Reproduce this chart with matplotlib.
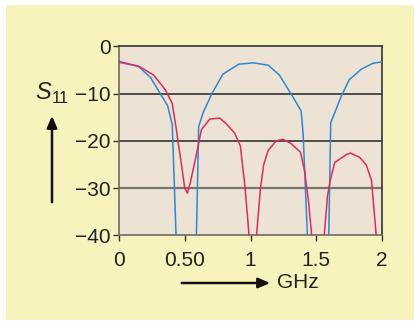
import matplotlib
matplotlib.use("Agg")
import matplotlib.pyplot as plt
from matplotlib.patches import Rectangle, FancyArrowPatch
import numpy as np

plt.rcParams['font.family'] = ['Liberation Sans', 'DejaVu Sans']

# Blue curve (GHz, dB)
blue_x = [0.0, 0.145, 0.24, 0.37, 0.405, 0.44, 0.585, 0.606, 0.64, 0.707, 0.79, 0.91,
          1.02, 1.135, 1.22, 1.32, 1.385, 1.40, 1.44, 1.592, 1.61, 1.69, 1.75, 1.84, 1.93, 2.0]
blue_y = [-3.4, -4.2, -6.6, -12.6, -16.6, -45, -45, -17.0, -14.0, -10.0, -5.9, -3.8,
          -3.5, -4.0, -6.1, -10.6, -13.7, -18.4, -45, -45, -16.2, -10.6, -7.1, -4.9, -3.6, -3.3]

# Red curve (GHz, dB)
red_x = [0.0, 0.157, 0.264, 0.352, 0.405, 0.436, 0.449, 0.474, 0.5, 0.52, 0.542, 0.588,
         0.626, 0.69, 0.766, 0.816, 0.88, 0.923, 0.958, 0.995, 1.04, 1.075, 1.10, 1.133,
         1.196, 1.247, 1.305, 1.38, 1.41, 1.44, 1.472, 1.555, 1.585, 1.607, 1.64, 1.73,
         1.76, 1.83, 1.88, 1.92, 1.962]
red_y = [-3.2, -4.3, -6.1, -9.2, -12.1, -17.6, -20.2, -24.8, -30.0, -31.1, -28.9, -23.0,
         -17.7, -15.4, -15.2, -16.4, -18.4, -21.1, -29.7, -42, -42, -30.3, -25.1, -22.1,
         -20.0, -19.7, -20.5, -22.4, -26.2, -32.5, -42, -42, -31.8, -28.3, -24.6, -22.9,
         -22.6, -23.5, -25.1, -28.3, -42]

x_ticks = [0, 0.5, 1, 1.5, 2]
x_tick_labels = ["0", "0.50", "1", "1.5", "2"]
y_ticks = [0, -10, -20, -30, -40]
y_tick_labels = ["0", "\u221210", "\u221220", "\u221230", "\u221240"]

W, H = 418, 321
fig = plt.figure(figsize=(W / 100, H / 100), dpi=100, facecolor='white')
fig.patches.append(Rectangle((6 / W, 1 / H), (414 - 6) / W, 315 / H,
                             transform=fig.transFigure, facecolor='#f7f3bd',
                             edgecolor='none', zorder=-10))

ax = fig.add_axes([119 / W, 85.7 / H, 263 / W, 189 / H])
ax.set_zorder(1)
ax.set_facecolor('#ece3d4')
ax.plot(blue_x, blue_y, color='#2a8ad6', lw=1.1, zorder=3)
ax.plot(red_x, red_y, color='#e2295c', lw=1.1, zorder=3)

for yv, c, lw in [(-10, '#333333', 1.2), (-20, '#333333', 1.2), (-30, '#7a7670', 1.6)]:
    ax.axhline(yv, color=c, lw=lw, zorder=2)

ax.set_xlim(0, 2)
ax.set_ylim(-40, 0)
ax.set_xticks(x_ticks)
ax.set_xticklabels(x_tick_labels)
ax.set_yticks(y_ticks)
ax.set_yticklabels(y_tick_labels)
ax.tick_params(axis='both', direction='out', length=4, width=1, labelsize=15,
               color='#333333', labelcolor='#222222')
ax.tick_params(axis='x', pad=7)
ax.tick_params(axis='y', pad=2)
for s in ['top', 'right']:
    ax.spines[s].set_color('#333333')
    ax.spines[s].set_linewidth(1.2)
for s in ['left', 'bottom']:
    ax.spines[s].set_color('#6e6a64')
    ax.spines[s].set_linewidth(1.2)

# y label and arrow
fig.text(35 / W, 1 - 93 / H, "S", fontsize=17, ha='left', va='center', color='#222222',
         fontstyle='italic')
fig.text(52 / W, 1 - 99 / H, "11", fontsize=12, ha='left', va='center', color='#222222')
fig.patches.append(FancyArrowPatch((52 / W, 1 - 205 / H), (52 / W, 1 - 113 / H),
                                   transform=fig.transFigure,
                                   arrowstyle='-|>,head_length=7,head_width=3',
                                   color='#111111', lw=1.8, mutation_scale=1))

# x label and arrow
fig.patches.append(FancyArrowPatch((179 / W, 1 - 283 / H), (273 / W, 1 - 283 / H),
                                   transform=fig.transFigure,
                                   arrowstyle='-|>,head_length=7,head_width=3',
                                   color='#111111', lw=1.8, mutation_scale=1))
fig.text(277 / W, 1 - 283 / H, "GHz", fontsize=15, ha='left', va='center', color='#222222')

fig.savefig("out.png", dpi=100, facecolor='white')
